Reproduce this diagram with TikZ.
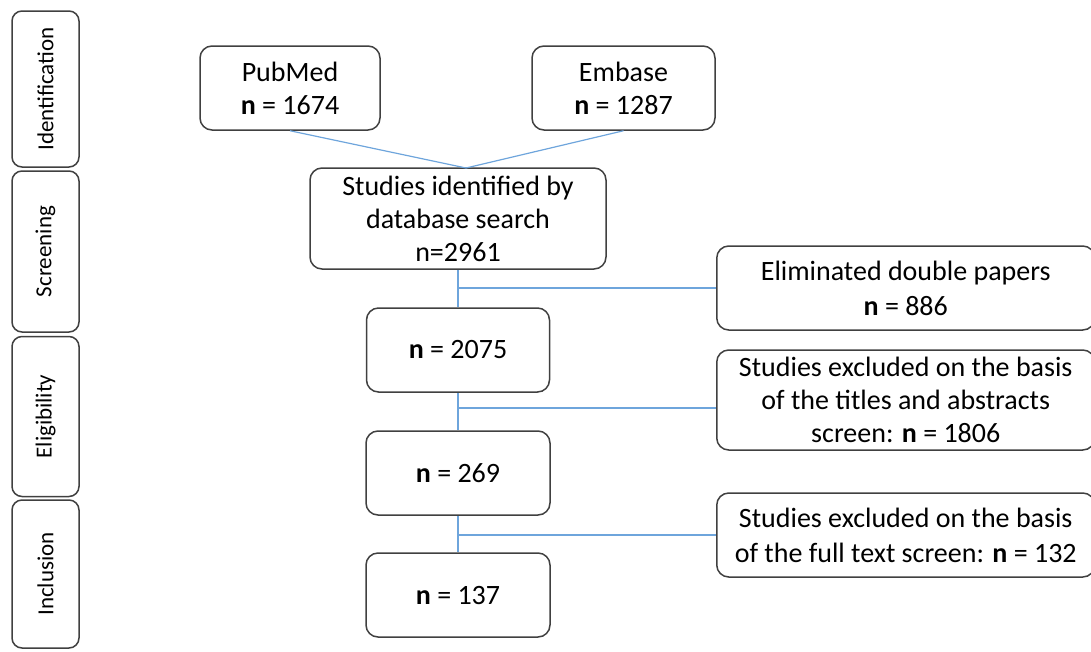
\documentclass[tikz,border=0pt]{standalone}
\usepackage{fontspec}
\setmainfont{Carlito}
\definecolor{boxline}{RGB}{64,64,64}
\definecolor{conn}{RGB}{110,165,220}
\begin{document}
\begin{tikzpicture}[x=1pt,y=-1pt,
  box/.style={draw=boxline, line width=1.5pt, rounded corners=12pt, fill=white,
    align=center, inner sep=0pt, font=\fontsize{28}{33}\selectfont},
  wide/.style={font=\fontsize{28}{35}\selectfont},
  phase/.style={draw=boxline, line width=1.5pt, rounded corners=10pt, fill=white,
    inner sep=0pt},
  phasetext/.style={rotate=90, font=\fontsize{23}{26}\selectfont},
  link/.style={draw=conn, line width=1.2pt}]
\useasboundingbox (0,0) rectangle (1091,651);
% phase boxes
\node[phase, minimum width=67pt, minimum height=156pt] (id) at (45.5,89) {};
\node[phasetext] (idt) at (id.center) {Identification};
\node[phase, minimum width=67pt, minimum height=161pt] (scr) at (45.5,251.5) {};
\node[phasetext] (scrt) at (scr.center) {Screening};
\node[phase, minimum width=67pt, minimum height=160pt] (elig) at (45.5,416.5) {};
\node[phasetext] (eligt) at (elig.center) {Eligibility};
\node[phase, minimum width=67pt, minimum height=148pt] (incl) at (45.5,574) {};
\node[phasetext] (inclt) at (incl.center) {Inclusion};
% main boxes
\node[box, minimum width=180pt, minimum height=84pt] (pubmed) at (290,88) {PubMed\\\textbf{n} = 1674};
\node[box, minimum width=183pt, minimum height=84pt] (embase) at (623.5,88) {Embase\\\textbf{n} = 1287};
\node[box, minimum width=296pt, minimum height=101pt] (studies) at (458,218.5) {Studies identified by\\database search\\n=2961};
\node[box, minimum width=183pt, minimum height=84pt] (n2075) at (458,350) {\textbf{n} = 2075};
\node[box, minimum width=184pt, minimum height=84pt] (n269) at (458,473) {\textbf{n} = 269};
\node[box, minimum width=184pt, minimum height=84pt] (n137) at (458,595) {\textbf{n} = 137};
\node[box, wide, minimum width=378pt, minimum height=84pt, anchor=west] (elim) at (716,288) {Eliminated double papers\\\textbf{n} = 886};
\node[box, minimum width=378pt, minimum height=100pt, anchor=west] (excl1) at (716,400) {Studies excluded on the basis\\of the titles and abstracts\\screen: \textbf{n} = 1806};
\node[box, wide, minimum width=378pt, minimum height=84pt, anchor=west] (excl2) at (716,535) {Studies excluded on the basis\\of the full text screen: \textbf{n} = 132};
% connectors
\coordinate (j) at (466,168);
\draw[link] (pubmed.south) -- (j);
\draw[link] (embase.south) -- (j);
\draw[link] (studies.south) -- (n2075.north);
\draw[link] (studies.south |- elim.west) -- (elim.west);
\draw[link] (n2075.south) -- (n269.north);
\draw[link] (n2075.south |- 0,408) -- (excl1.west |- 0,408);
\draw[link] (n269.south) -- (n137.north);
\draw[link] (n269.south |- excl2.west) -- (excl2.west);
\end{tikzpicture}
\end{document}
